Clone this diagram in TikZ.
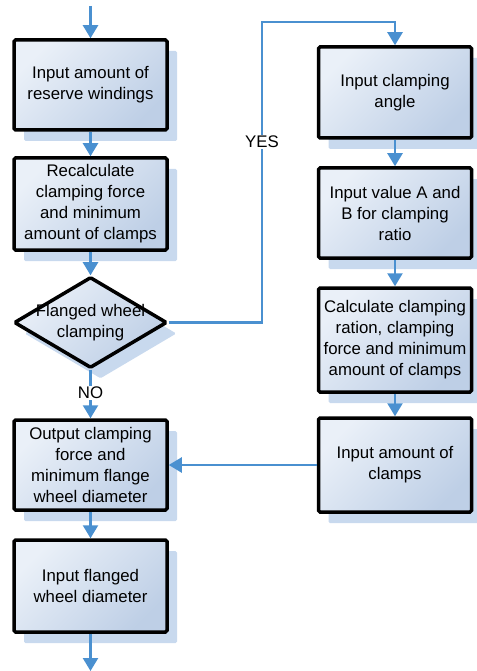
\documentclass[tikz,border=0pt]{standalone}
\usepackage{fontspec}
\setmainfont{Liberation Sans}
\usetikzlibrary{shapes.geometric, shadows, arrows.meta}
\definecolor{flowblue}{RGB}{74,144,208}
\definecolor{boxlight}{RGB}{234,240,248}
\definecolor{boxdark}{RGB}{190,207,230}
\definecolor{shadeblue}{RGB}{200,217,238}
\newcommand{\boxfont}{\fontsize{16.8}{21}\selectfont}

\begin{document}
\begin{tikzpicture}[x=1pt,y=-1pt, >={Triangle[width=15pt,length=13pt]}, ->,
    flowblue, line width=2.3pt,
    box/.style={draw=black, text=black, line width=3.5pt, rounded corners=1.5pt,
        minimum width=153pt, align=center, font=\boxfont, inner sep=2pt,
        top color=boxlight, bottom color=boxdark, shading angle=45,
        drop shadow={shadow xshift=10pt, shadow yshift=-11pt, fill=shadeblue, opacity=1}},
    dec/.style={box, diamond, aspect=1.68, minimum width=153pt, minimum height=91pt, inner sep=0pt},
    lbl/.style={fill=white, text=black, font=\boxfont, inner sep=1pt}]
    \useasboundingbox (0,0) rectangle (476,671);

    % left column
    \node[box, minimum height=90pt](0) at (90.5,85) {Input amount of\\reserve windings};
    \node[box, minimum height=92pt](1) at (90.5,204) {Recalculate\\clamping force\\and minimum\\amount of clamps};
    \node[dec](2) at (90.5,322.5) {};
    \node[align=center, text=black, font=\boxfont](2t) at (2) {Flanged wheel\\clamping};
    \node[box, minimum height=90pt](3) at (90.5,465) {Output clamping\\force and\\minimum flange\\wheel diameter};
    \node[box, minimum height=92pt](4) at (90.5,586) {Input flanged\\wheel diameter};

    % right column
    \node[box, minimum height=91pt](5) at (395,92.5) {Input clamping\\angle};
    \node[box, minimum height=90pt](6) at (395,213) {Input value A and\\B for clamping\\ratio};
    \node[box, minimum height=104pt](7) at (395,340) {Calculate clamping\\ration, clamping\\force and minimum\\amount of clamps};
    \node[box, minimum height=94pt](8) at (395,465) {Input amount of\\clamps};

    \coordinate(in) at (90.5,6);
    \coordinate(out) at (90.5,671);
    \coordinate(turn) at (262,22);

    \draw(in)--(0);
    \draw(0)--(1);
    \draw(1)--(2);
    \draw(2)--(3) node[lbl, pos=0.48]{NO};
    \draw(3)--(4);
    \draw(4)--(out);
    \draw(2.east)--(turn |- 2.east) -- node[lbl, pos=0.6]{YES} (turn) -| (5);
    \draw(5)--(6);
    \draw(6)--(7);
    \draw(7)--(8);
    \draw(8)--(3);
\end{tikzpicture}
\end{document}
